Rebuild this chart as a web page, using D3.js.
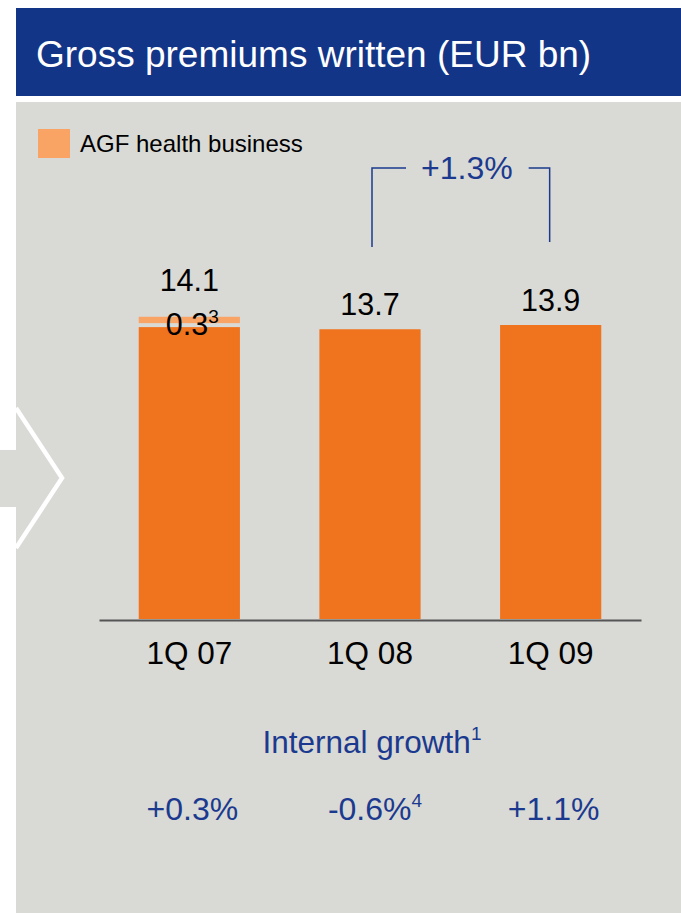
<!DOCTYPE html>
<html>
<head>
<meta charset="utf-8">
<script src="https://cdn.jsdelivr.net/npm/d3@7"></script>
<style>
  html, body { margin: 0; padding: 0; background: #ffffff; }
  svg { display: block; font-family: "Liberation Sans", Arial, Helvetica, sans-serif; }
</style>
</head>
<body>
<svg id="chart" width="681" height="913"></svg>
<script>
// Gross premiums written, EUR bn
const categories   = ["1Q 07", "1Q 08", "1Q 09"];
const coreValues   = [13.8, 13.7, 13.9];     // premiums excluding AGF health
const agfValues    = [0.3, 0, 0];            // AGF health business
const totalLabels  = ["14.1", "13.7", "13.9"];
const agfLabels    = ["0.3", "", ""];
const agfNotes     = ["3", "", ""];
const growthLabels = ["+0.3%", "-0.6%", "+1.1%"];
const growthNotes  = ["", "4", ""];
const bracketLabel = "+1.3%";
const legendLabel  = "AGF health business";
const titleText    = "Gross premiums written (EUR bn)";
const growthTitle  = "Internal growth";

const C = {
  blue: "#133588",
  text: "#1b3a8f",
  panel: "#d9d9d5",
  core: "#f0731e",
  agf: "#f9a465",
  axis: "#555555"
};

const svg = d3.select("#chart");

// header band
svg.append("rect").attr("x", 16).attr("y", 8).attr("width", 665).attr("height", 88).attr("fill", C.blue);
svg.append("text").attr("x", 36).attr("y", 67).attr("fill", "#fff")
  .attr("font-size", 37).text(titleText);

// grey panel
svg.append("rect").attr("x", 16).attr("y", 102).attr("width", 665).attr("height", 811).attr("fill", C.panel);

// arrow pointing into the panel from the left margin
svg.append("rect").attr("x", 0).attr("y", 450).attr("width", 17).attr("height", 57).attr("fill", C.panel);
svg.append("path").attr("d", "M16,408 L62,478 L16,548")
  .attr("fill", "none").attr("stroke", "#fff").attr("stroke-width", 4.5);

// scales
const x = d3.scaleBand().domain(categories).range([99, 641]).paddingInner(0.44).paddingOuter(0.22);
const y = d3.scaleLinear().domain([0, 14.1]).range([619, 619 - 14.1 * 21.15]);

const rows = categories.map((c, i) => ({
  cat: c, core: coreValues[i], agf: agfValues[i],
  total: totalLabels[i], agfLabel: agfLabels[i], agfNote: agfNotes[i]
}));

const gap = 4; // white separation between stacked segments

// core bars
svg.append("g").selectAll("rect").data(rows).join("rect")
  .attr("x", d => x(d.cat)).attr("width", x.bandwidth())
  .attr("y", d => y(d.core)).attr("height", d => y(0) - y(d.core))
  .attr("fill", C.core);

// AGF health segments
svg.append("g").selectAll("rect").data(rows.filter(d => d.agf > 0)).join("rect")
  .attr("x", d => x(d.cat)).attr("width", x.bandwidth())
  .attr("y", d => y(d.core + d.agf) - gap)
  .attr("height", d => y(d.core) - y(d.core + d.agf))
  .attr("fill", C.agf);

// axis baseline
const xAxis = d3.axisBottom(x).tickSize(0).tickPadding(0);
const axisG = svg.append("g").attr("transform", "translate(0,620)").call(xAxis);
axisG.select(".domain").attr("stroke", C.axis).attr("stroke-width", 2);
axisG.selectAll(".tick text").attr("font-size", 31.5).attr("fill", "#000")
  .attr("font-family", "'Liberation Sans', Arial, sans-serif")
  .attr("dy", 0).attr("y", 44);

// total labels above bars
svg.append("g").selectAll("text").data(rows).join("text")
  .attr("x", d => x(d.cat) + x.bandwidth() / 2)
  .attr("y", d => d.agf > 0 ? y(d.core + d.agf) - 30 : y(d.core) - 14)
  .attr("text-anchor", "middle").attr("font-size", 30.5).attr("fill", "#000")
  .text(d => d.total);

// AGF value label with footnote
rows.filter(d => d.agf > 0).forEach(d => {
  const t = svg.append("text")
    .attr("x", x(d.cat) + x.bandwidth() / 2 + 3)
    .attr("y", y(d.core + d.agf) + 14)
    .attr("text-anchor", "middle").attr("font-size", 30.5).attr("fill", "#000");
  t.append("tspan").text(d.agfLabel);
  t.append("tspan").attr("font-size", 19).attr("dy", -12).text(d.agfNote);
});

// legend
svg.append("rect").attr("x", 38).attr("y", 129).attr("width", 32).attr("height", 29).attr("fill", C.agf);
svg.append("text").attr("x", 80).attr("y", 152).attr("font-size", 24).attr("fill", "#000").text(legendLabel);

// growth bracket between 1Q 08 and 1Q 09
const bx1 = x(categories[1]) + x.bandwidth() / 2 + 2;
const bx2 = x(categories[2]) + x.bandwidth() / 2 - 1;
const bTop = 168;
const bText = svg.append("text").attr("x", (bx1 + bx2) / 2 + 6).attr("y", 179)
  .attr("text-anchor", "middle").attr("font-size", 32).attr("fill", C.text).text(bracketLabel);
const bb = bText.node().getBBox();
const bracket = svg.append("g").attr("fill", "none").attr("stroke", C.text).attr("stroke-width", 1.5);
bracket.append("path").attr("d", `M${bx1},247 V${bTop} H${bb.x - 15}`);
bracket.append("path").attr("d", `M${bb.x + bb.width + 16},${bTop} H${bx2} V242`);

// internal growth block
const gt = svg.append("text").attr("x", 372).attr("y", 753)
  .attr("text-anchor", "middle").attr("font-size", 31.5).attr("fill", C.text);
gt.append("tspan").text(growthTitle);
gt.append("tspan").attr("font-size", 19).attr("dy", -13).text("1");

growthLabels.forEach((g, i) => {
  const cx = x(categories[i]) + x.bandwidth() / 2 + (growthNotes[i] ? 5 : 3);
  const t = svg.append("text").attr("x", cx).attr("y", 820)
    .attr("text-anchor", "middle").attr("font-size", 32).attr("fill", C.text);
  t.append("tspan").text(g);
  if (growthNotes[i]) t.append("tspan").attr("font-size", 19).attr("dy", -13).text(growthNotes[i]);
});
</script>
</body>
</html>
